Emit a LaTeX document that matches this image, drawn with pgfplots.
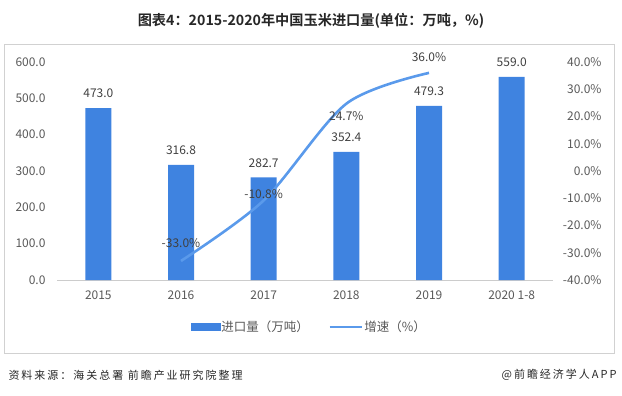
\documentclass[border=0pt]{standalone}
\usepackage{fontspec}
\usepackage{pgfplots}
\pgfplotsset{compat=1.18}
\setmainfont{Noto Sans CJK SC}
\newfontfamily\cjk{Noto Sans CJK SC}
\newfontfamily\cjkls{Noto Sans CJK SC}[LetterSpace=18]
\newfontfamily\cjkb{Noto Sans CJK SC Bold}
\definecolor{barblue}{HTML}{3F83E0}
\definecolor{lineblue}{HTML}{5A9AEB}
\definecolor{txt}{HTML}{595959}
\definecolor{lab}{HTML}{404040}
\begin{document}
\begin{tikzpicture}[x=1bp,y=1bp]
\path (0,0) rectangle (622,395);
\draw[color=black!18, line width=0.8bp] (4.5,42) rectangle (614.5,350.5);
\node[font=\cjkb\fontsize{14.2bp}{16bp}\selectfont, text=black!85] at (311,374) {图表4：2015-2020年中国玉米进口量(单位：万吨，\%)};
\node[anchor=west, font=\cjkls\fontsize{11bp}{12bp}\selectfont, text=black!85] at (5,20) {资料来源：海关总署 前瞻产业研究院整理};
\node[anchor=east, font=\cjkls\fontsize{11bp}{12bp}\selectfont, text=black!85] at (620,20) {@前瞻经济学人APP};

\begin{axis}[
  at={(57bp,115bp)}, anchor=south west,
  scale only axis, width=496bp, height=218bp,
  xmin=-0.5, xmax=5.5, ymin=0, ymax=600,
  xtick={0,1,2,3,4,5},
  xticklabels={2015,2016,2017,2018,2019,2020 1-8},
  ytick={0,100,200,300,400,500,600},
  yticklabel={\pgfmathprintnumber[fixed,fixed zerofill,precision=1]{\tick}},
  /pgf/number format/assume math mode=true,
  axis x line*=bottom, axis y line*=left,
  x axis line style={draw=black!20, line width=0.8bp},
  y axis line style={draw=none},
  major tick length=0,
  tick label style={font=\fontsize{12bp}{13bp}\selectfont, text=txt},
  yticklabel style={xshift=-8bp},
  xticklabel style={yshift=-7bp},
  clip=false,
]
\addplot[ybar, bar width=26bp, fill=barblue, draw=none,
  nodes near coords={\pgfmathprintnumber[fixed,fixed zerofill,precision=1]{\pgfplotspointmeta}},
  every node near coord/.append style={anchor=center, yshift=14.5bp, font=\fontsize{12bp}{13bp}\selectfont, text=lab, /pgf/number format/assume math mode=true},
] coordinates {(0,473.0) (1,316.8) (2,282.7) (3,352.4) (4,479.3) (5,559.0)};
\end{axis}

\begin{axis}[
  at={(57bp,115bp)}, anchor=south west,
  scale only axis, width=496bp, height=218bp,
  xmin=-0.5, xmax=5.5, ymin=-40, ymax=40,
  ytick={-40,-30,...,40},
  yticklabel={\pgfmathprintnumber[fixed,fixed zerofill,precision=1]{\tick}\%},
  /pgf/number format/assume math mode=true,
  axis x line=none, axis y line*=right,
  y axis line style={draw=none},
  major tick length=0,
  tick label style={font=\fontsize{12bp}{13bp}\selectfont, text=txt},
  yticklabel style={anchor=east, xshift=52bp},
  clip=false,
  legend columns=2,
  legend style={at={(0.508,-0.2156)}, anchor=center, draw=none, fill=none,
    font=\cjk\fontsize{12.5bp}{14bp}\selectfont, text=txt,
    nodes={inner xsep=1.5bp},
    /tikz/every even column/.append style={column sep=18bp}},
]
\addlegendimage{legend image code/.code={\fill[barblue] (0bp,-3.5bp) rectangle (29bp,3.5bp);}}
\addlegendentry{进口量（万吨）}
\addlegendimage{legend image code/.code={\draw[lineblue, line width=2.5bp] (0bp,0bp) -- (32bp,0bp);}}
\addlegendentry{增速（\%）}
\addplot[smooth, lineblue, line width=2.6bp, mark=none,
  visualization depends on={\thisrow{dy}\as\dy},
  nodes near coords={\pgfmathprintnumber[fixed,fixed zerofill,precision=1]{\pgfplotspointmeta}\%},
  every node near coord/.append style={anchor=center, yshift=\dy bp, font=\fontsize{12bp}{13bp}\selectfont, text=lab, /pgf/number format/assume math mode=true},
  forget plot,
] table[x=x, y=y] {
x y dy
1 -33.0 18
2 -10.8 6
3 24.7 -12
4 36.0 16
};
\end{axis}
\end{tikzpicture}
\end{document}
